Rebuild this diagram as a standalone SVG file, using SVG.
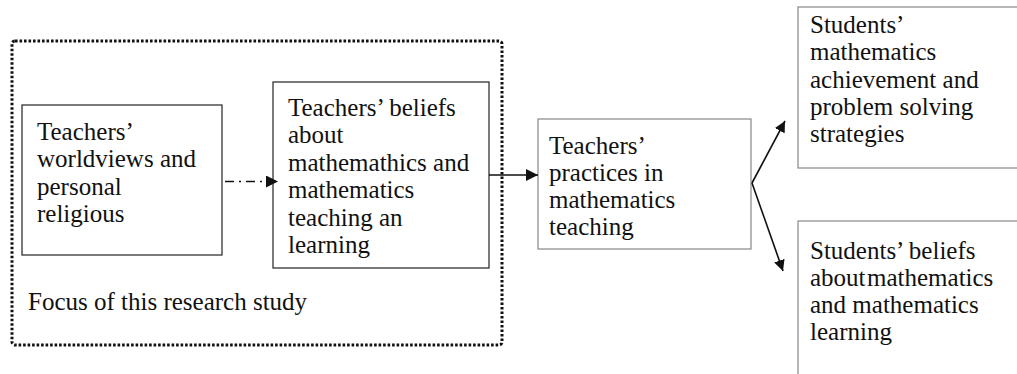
<svg xmlns="http://www.w3.org/2000/svg" width="1017" height="374" viewBox="0 0 1017 374">
  <style>
    text { font-family: "Liberation Serif", "Times New Roman", serif; font-size: 25px; fill: #111; }
    .box { fill: #fff; stroke: #222; stroke-width: 1.2; }
    .box-light { fill: #fff; stroke: #888; stroke-width: 1.2; }
    .focus { fill: none; stroke: #111; stroke-width: 3; stroke-dasharray: 2.6 1.9; }
    .link { fill: none; stroke: #111; stroke-width: 1.6; }
  </style>
  <defs>
    <marker id="head" viewBox="0 0 10 10" refX="10" refY="5" markerWidth="11" markerHeight="11" markerUnits="userSpaceOnUse" orient="auto">
      <path d="M0,0 L10,5 L0,10 z" fill="#111"/>
    </marker>
    <marker id="head-lg" viewBox="0 0 10 10" refX="10" refY="5" markerWidth="13" markerHeight="12" markerUnits="userSpaceOnUse" orient="auto">
      <path d="M0,0 L10,5 L0,10 z" fill="#111"/>
    </marker>
  </defs>

  <!-- research focus boundary -->
  <g id="focus-area">
    <rect class="focus" x="12" y="41" width="490" height="304" rx="3"/>
    <text x="28" y="310">Focus of this research study</text>
  </g>

  <g id="worldviews">
    <rect class="box" x="22" y="105" width="200" height="150"/>
    <text x="37" y="140">Teachers’</text>
    <text x="37" y="167">worldviews and</text>
    <text x="37" y="195">personal</text>
    <text x="37" y="222">religious</text>
  </g>

  <g id="teacher-beliefs">
    <rect class="box" x="273" y="82" width="216" height="186"/>
    <text x="288" y="116">Teachers’ beliefs</text>
    <text x="288" y="143">about</text>
    <text x="288" y="171">mathemathics and</text>
    <text x="288" y="198">mathematics</text>
    <text x="288" y="226">teaching an</text>
    <text x="288" y="253">learning</text>
  </g>

  <g id="teacher-practices">
    <rect class="box-light" x="538" y="119" width="213" height="130"/>
    <text x="549" y="154">Teachers’</text>
    <text x="549" y="181">practices in</text>
    <text x="549" y="208">mathematics</text>
    <text x="549" y="235">teaching</text>
  </g>

  <g id="student-achievement">
    <rect class="box-light" x="798" y="7" width="230" height="161"/>
    <text x="810" y="33">Students’</text>
    <text x="810" y="60">mathematics</text>
    <text x="810" y="88">achievement and</text>
    <text x="810" y="115">problem solving</text>
    <text x="810" y="142">strategies</text>
  </g>

  <g id="student-beliefs">
    <rect class="box-light" x="798" y="221" width="230" height="170"/>
    <text x="810" y="259">Students’ beliefs</text>
    <text x="810" y="286">about<tspan x="867">mathematics</tspan></text>
    <text x="810" y="313">and mathematics</text>
    <text x="810" y="340">learning</text>
  </g>

  <g id="connectors">
    <path class="link" d="M225,181.5 H278" stroke-dasharray="9 5 2 5" marker-end="url(#head-lg)"/>
    <path class="link" d="M489,175 H538" marker-end="url(#head-lg)"/>
    <path class="link" d="M752,183 L785,121" marker-end="url(#head)"/>
    <path class="link" d="M752,183 L783,271" marker-end="url(#head)"/>
  </g>
</svg>
